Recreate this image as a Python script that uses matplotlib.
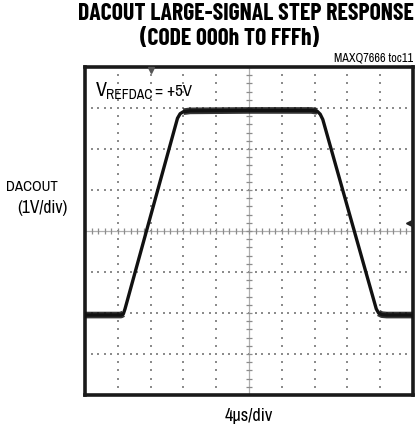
import numpy as np
import matplotlib
matplotlib.use("Agg")
import matplotlib.pyplot as plt

W, H = 419, 430
FONT = ['Archivo Narrow', 'Roboto', 'DejaVu Sans']
TITLE_FONT = ['Barlow Condensed', 'Asap Condensed', 'Roboto', 'DejaVu Sans']
plt.rcParams['font.family'] = FONT

t_div = [0.0, 1.10, 1.17, 1.22, 2.82, 2.90, 3.00, 3.20, 5.00, 6.90, 7.08, 7.17, 7.25, 8.88, 8.95, 9.05, 9.20, 10.0]
v_div = [1.95, 1.95, 1.98, 2.10, 6.75, 6.86, 6.91, 6.93, 6.94, 6.94, 6.92, 6.85, 6.72, 2.10, 2.00, 1.96, 1.95, 1.95]

title1 = "DACOUT LARGE-SIGNAL STEP RESPONSE"
title2 = "(CODE 000h TO FFFh)"
ylabel1 = "DACOUT"
ylabel2 = "(1V/div)"
xlabel = "4\u00b5s/div"
tag = "MAXQ7666 toc11"

n_x, n_y = 10, 8


def px(x, y):
    return x / W, 1 - y / H


fig = plt.figure(figsize=(W / 100, H / 100), dpi=100)
renderer = fig.canvas.get_renderer()


def fit_text(x, y, s, width, size=12, **kw):
    # scale the size so the text spans the same width as in the scan
    t = fig.text(*px(x, y), s, fontsize=size, **kw)
    w = t.get_window_extent(renderer).width
    t.set_fontsize(size * width / w)
    return t


ax = fig.add_axes([85 / W, 1 - 395 / H, 328 / W, 328 / H])
ax.set_xlim(0, n_x)
ax.set_ylim(0, n_y)
ax.set_xticks([])
ax.set_yticks([])
for s in ax.spines.values():
    s.set_linewidth(2.6)
    s.set_color('#1a1a1a')

# dotted graticule
sub = np.arange(0, n_x + 0.01, 0.2)
for gy in range(1, n_y):
    if gy == n_y // 2:
        continue
    ax.scatter(sub, np.full_like(sub, gy), s=1.2, marker='s', color='#8c8c8c', lw=0, zorder=1)
suby = np.arange(0, n_y + 0.01, 0.2)
for gx in range(1, n_x):
    if gx == n_x // 2:
        continue
    ax.scatter(np.full_like(suby, gx), suby, s=1.2, marker='s', color='#8c8c8c', lw=0, zorder=1)

# centre axes with minor tick crosses
ax.axhline(n_y / 2, color='#b0b0b0', lw=0.9, zorder=1)
ax.axvline(n_x / 2, color='#b0b0b0', lw=0.9, zorder=1)
ax.plot(sub, np.full_like(sub, n_y / 2), ls='none', marker='|', ms=4, mew=0.9, color='#8c8c8c', zorder=1)
ax.plot(np.full_like(suby, n_x / 2), suby, ls='none', marker='_', ms=4, mew=0.9, color='#8c8c8c', zorder=1)

# trace
t = np.array(t_div)
v = np.array(v_div)
ax.plot(t, v, color='#111111', lw=2.4, solid_joinstyle='round', zorder=3)
flat = np.where((np.abs(v - 1.95) < 0.06) | (np.abs(v - 6.93) < 0.06), v, np.nan)
ax.plot(t, flat, color='#111111', lw=4.8, alpha=0.85, solid_capstyle='butt', zorder=3)

# trigger / ground markers
ax.plot([2.0], [n_y - 0.08], marker='v', ms=4, color='#555555', clip_on=False, zorder=4)
ax.plot([9.88], [4.2], marker='<', ms=4, color='#222222', zorder=4)

# text
t1 = fit_text(78, 14, title1, 338, ha='left', va='center', fontweight='bold', family=TITLE_FONT)
fig.text(*px(229, 39), title2, ha='center', va='center', fontweight='bold',
         family=TITLE_FONT, fontsize=t1.get_fontsize())
fit_text(413, 58, tag, 79, ha='right', va='center')
fit_text(96, 96, "V", 11, ha='left', va='baseline')
fit_text(106, 99, "REFDAC", 46, ha='left', va='baseline')
fit_text(155, 96, "= +5V", 37, ha='left', va='baseline')
fit_text(6, 187, ylabel1, 52, ha='left', va='center')
fit_text(17, 208, ylabel2, 50, ha='left', va='center')
fit_text(225, 416, xlabel, 48, ha='left', va='center')

fig.savefig("out.png", dpi=100)
